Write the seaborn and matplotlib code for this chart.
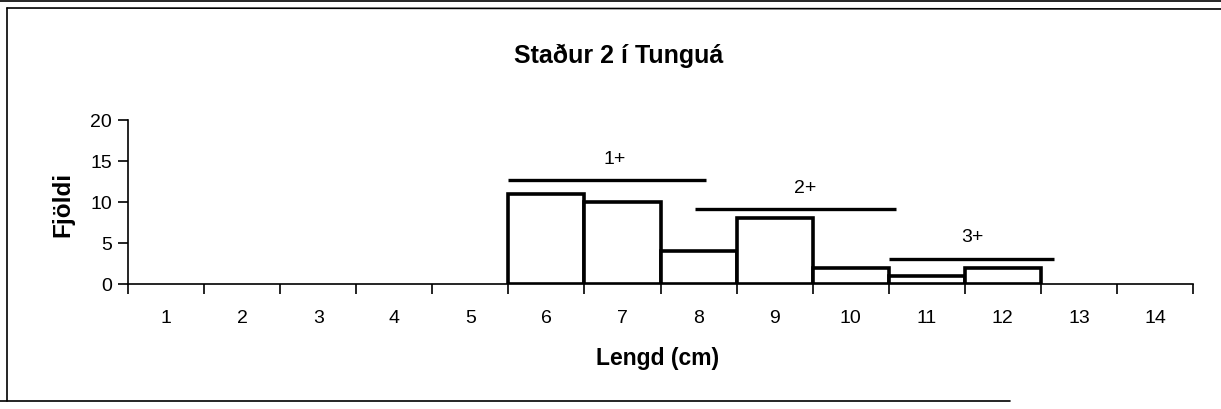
import matplotlib
matplotlib.use("Agg")
import matplotlib.pyplot as plt
import matplotlib.lines as mlines
from matplotlib.ticker import FixedLocator, NullFormatter, FixedFormatter
import seaborn as sns
import pandas as pd

# ---- data ----
lengths = [1, 2, 3, 4, 5, 6, 7, 8, 9, 10, 11, 12, 13, 14]
counts = [0, 0, 0, 0, 0, 11, 10, 4, 8, 2, 1, 2, 0, 0]
y_ticks = [0, 5, 10, 15, 20]

age_labels = ["1+", "2+", "3+"]
age_start = [5.5, 7.95, 10.5]
age_end = [8.1, 10.6, 12.67]
age_level = [12.7, 9.1, 3.0]
age_text_x = [6.9, 9.4, 11.6]
age_text_y = [15.3, 11.8, 5.8]

title = "Staður 2 í Tunguá"
xlabel = "Lengd (cm)"
ylabel = "Fjöldi"

sns.set_theme(style="white")
plt.rcParams["font.family"] = ["Liberation Sans", "DejaVu Sans"]

df = pd.DataFrame({"Lengd": lengths, "Fjoldi": counts})
df_nz = df[df["Fjoldi"] > 0]

W, H = 1221, 410
ax_l, ax_r, ax_b, ax_t = 128, 1193, 285, 120.7
fig = plt.figure(figsize=(W / 100, H / 100), dpi=100)
ax = fig.add_axes([ax_l / W, 1 - ax_b / H, (ax_r - ax_l) / W, (ax_b - ax_t) / H])

sns.barplot(data=df_nz, x="Lengd", y="Fjoldi", native_scale=True, width=1.0,
            color="white", edgecolor="black", linewidth=2.6, ax=ax,
            errorbar=None)
for p in ax.patches:
    p.set_facecolor("white")

ax.set_xlim(0.5, 14.5)
ax.set_ylim(0, 20)

# x: tick marks at category boundaries, labels at centres
ax.xaxis.set_major_locator(FixedLocator([l - 0.5 for l in lengths] + [lengths[-1] + 0.5]))
ax.xaxis.set_major_formatter(NullFormatter())
ax.xaxis.set_minor_locator(FixedLocator(lengths))
ax.xaxis.set_minor_formatter(FixedFormatter([str(l) for l in lengths]))
ax.tick_params(axis="x", which="major", direction="out", length=7, width=1.2,
               color="black", bottom=True)
ax.tick_params(axis="x", which="minor", length=0, labelsize=14, pad=18,
               labelcolor="black", bottom=True)

ax.set_yticks(y_ticks)
ax.set_yticklabels([str(v) for v in y_ticks])
ax.tick_params(axis="y", direction="out", length=7, width=1.2, color="black",
               labelsize=14, pad=4.5, labelcolor="black", left=True)

for s in ["top", "right"]:
    ax.spines[s].set_visible(False)
for s in ["left", "bottom"]:
    ax.spines[s].set_color("black")
    ax.spines[s].set_linewidth(1.2)

ax.set_xlabel(xlabel, fontsize=16.5, fontweight="bold", color="black", va="center")
ax.xaxis.set_label_coords((658 - ax_l) / (ax_r - ax_l), (ax_b - 359) / (ax_b - ax_t))
ax.set_ylabel(ylabel, fontsize=17.5, fontweight="bold", color="black", va="center")
ax.yaxis.set_label_coords((63 - ax_l) / (ax_r - ax_l), (ax_b - 204) / (ax_b - ax_t))

# age group lines
for lab, x0, x1, yv, tx, ty in zip(age_labels, age_start, age_end, age_level,
                                   age_text_x, age_text_y):
    ax.plot([x0, x1], [yv, yv], color="black", linewidth=2.4, solid_capstyle="butt",
            clip_on=False)
    ax.text(tx, ty, lab, ha="center", va="center", fontsize=14, color="black")

fig.text(619 / W, 1 - 56 / H, title, ha="center", va="center",
         fontsize=18, fontweight="bold", color="black")

# scanned page frame
frame_kw = dict(color="black", linewidth=1.2, transform=fig.transFigure)
fig.add_artist(mlines.Line2D([0, 1], [1 - 2 / H, 1 - 2 / H], **frame_kw))
fig.add_artist(mlines.Line2D([7 / W, 1], [1 - 9 / H, 1 - 10 / H], **frame_kw))
fig.add_artist(mlines.Line2D([7 / W, 7 / W], [1 - 9 / H, 1 - 402 / H], **frame_kw))
fig.add_artist(mlines.Line2D([0, 1010 / W], [1 - 402 / H, 1 - 402 / H], **frame_kw))

fig.savefig("out.png", dpi=100, facecolor="white")
